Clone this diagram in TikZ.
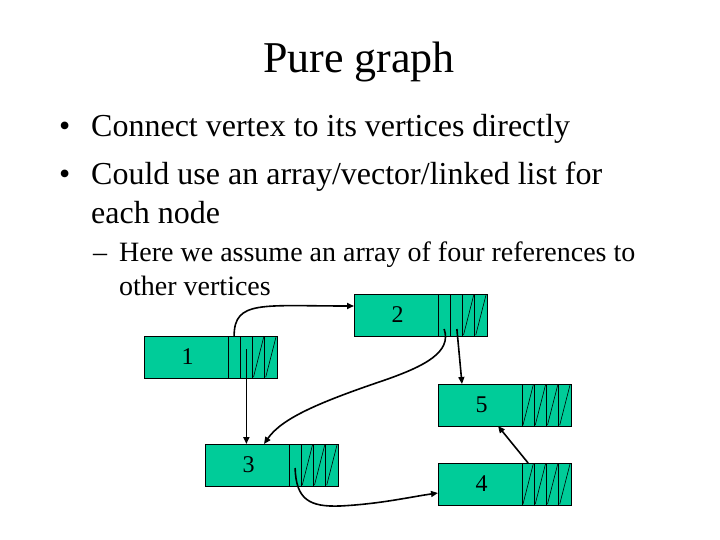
\documentclass[tikz,border=0pt]{standalone}
\usepackage{fontspec}
\setmainfont{Liberation Serif}
\usetikzlibrary{arrows.meta,calc}
\definecolor{vgreen}{RGB}{0,204,153}
\newcommand\vertexbox[4]{%
  \node[lab] (#1) at (#2,#3) {\hspace*{3pt}#4};
  \node[cell] (#1a) at (#1.north east) {};
  \node[cell] (#1b) at (#1a.north east) {};
  \node[cell] (#1c) at (#1b.north east) {};
  \node[cell] (#1d) at (#1c.north east) {};}
\newcommand\slashcell[1]{\draw[slashline] ([xshift=1pt,yshift=1pt]#1.south west) -- ([xshift=-1pt,yshift=-1pt]#1.north east);}
\begin{document}
\begin{tikzpicture}[x=1pt,y=-1pt,
  lab/.style={draw, fill=vgreen, line width=0.6pt, minimum width=84pt, minimum height=42pt, inner sep=0pt, outer sep=0pt, anchor=north west, font=\fontsize{24}{28}\selectfont},
  cell/.style={draw, fill=vgreen, line width=0.6pt, minimum width=12.25pt, minimum height=42pt, inner sep=0pt, outer sep=0pt, anchor=north west},
  slashline/.style={line width=0.6pt},
  ptr/.style={line width=1.6pt, -{Triangle[length=7pt,width=6pt]}},
  txt/.style={anchor=base west, inner sep=0pt},
  bigtxt/.style={txt, font=\fontsize{32}{38}\selectfont},
  subtxt/.style={txt, font=\fontsize{28}{34}\selectfont}]
\useasboundingbox (0,0) rectangle (720,540);

\node[anchor=base, inner sep=0pt, font=\fontsize{44}{53}\selectfont] (title) at (359,73) {Pure graph};

\node[bigtxt] (d1) at (59,137) {•};
\node[bigtxt] (b1) at (91,137) {Connect vertex to its vertices directly};
\node[bigtxt] (d2) at (59,185) {•};
\node[bigtxt] (b2) at (91,185) {Could use an array/vector/linked list for};
\node[bigtxt] (b3) at (91,223) {each node};
\node[subtxt] (d3) at (93,261) {–};
\node[subtxt] (s1) at (119,261) {Here we assume an array of four references to};
\node[subtxt] (s2) at (119,295) {other vertices};

\vertexbox{n2}{354}{294}{2}
\vertexbox{n1}{144}{336}{1}
\vertexbox{n5}{438}{384}{5}
\vertexbox{n3}{205}{444}{3}
\vertexbox{n4}{438}{463}{4}

\slashcell{n2c}\slashcell{n2d}
\slashcell{n1c}\slashcell{n1d}
\slashcell{n3b}\slashcell{n3c}\slashcell{n3d}
\slashcell{n5a}\slashcell{n5b}\slashcell{n5c}\slashcell{n5d}
\slashcell{n4a}\slashcell{n4b}\slashcell{n4c}\slashcell{n4d}

% pointers
\draw[ptr] (n1a.north) .. controls ($(n1a.north)+(0,-36)$) and (262,306) .. ([yshift=9pt]n2.west);
\draw[ptr] ([yshift=8pt]n1b.center) -- (n1b.center |- n3.north);
\draw[ptr] ([yshift=-14pt]n2a.center) .. controls (452,352) and (425,366) .. (385,380)
  .. controls (320,402) and (282,418) .. ([xshift=17pt]n3.north);
\draw[ptr] ([xshift=0.5pt,yshift=-14pt]n2b.center) -- ([xshift=-18pt]n5.north);
\draw[ptr] ([yshift=-3pt]n3a.center) .. controls (296,500) and (310,507) .. (340,506)
  .. controls (380,504) and (410,497) .. ([yshift=-9pt]n4.west);
\draw[ptr] (n4a.north) -- ([xshift=18pt]n5.south);
\end{tikzpicture}
\end{document}
